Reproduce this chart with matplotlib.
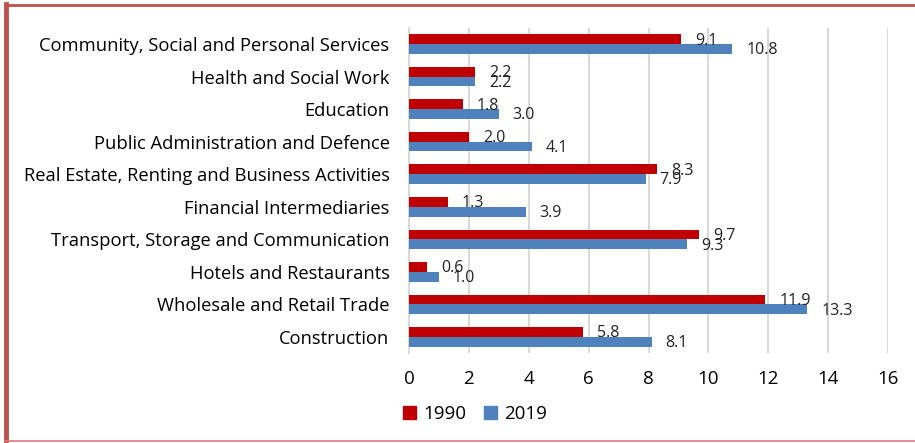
import matplotlib.pyplot as plt
import numpy as np
from matplotlib.lines import Line2D
from matplotlib.patches import Patch

plt.rcParams['font.family'] = ['Open Sans', 'DejaVu Sans']

sectors = [
    "Community, Social and Personal Services",
    "Health and Social Work",
    "Education",
    "Public Administration and Defence",
    "Real Estate, Renting and Business Activities",
    "Financial Intermediaries",
    "Transport, Storage and Communication",
    "Hotels and Restaurants",
    "Wholesale and Retail Trade",
    "Construction",
]
share_1990 = [9.1, 2.2, 1.8, 2.0, 8.3, 1.3, 9.7, 0.6, 11.9, 5.8]
share_2019 = [10.8, 2.2, 3.0, 4.1, 7.9, 3.9, 9.3, 1.0, 13.3, 8.1]

red = "#C00000"
blue = "#4F81BD"
frame = "#C0504D"

fig = plt.figure(figsize=(9.15, 4.43), dpi=100)
ax = fig.add_axes([0.447, 0.203, 0.5235, 0.734])

# first sector on top
y = np.arange(len(sectors))[::-1]
h = 0.3
ax.barh(y + h / 2, share_1990, height=h, color=red, zorder=3)
ax.barh(y - h / 2, share_2019, height=h, color=blue, zorder=3)

for yi, v in zip(y, share_1990):
    ax.annotate(f"{v:.1f}", (v, yi + h / 2), xytext=(10, -1), textcoords="offset points",
                ha="left", va="center", fontsize=11.5, color="#222222", zorder=4)
for yi, v in zip(y, share_2019):
    ax.annotate(f"{v:.1f}", (v, yi - h / 2), xytext=(10, -1), textcoords="offset points",
                ha="left", va="center", fontsize=11.5, color="#222222", zorder=4)

ax.set_xlim(0, 16)
ax.set_ylim(-0.5, len(sectors) - 0.5)
ax.set_xticks(range(0, 17, 2))
ax.set_yticks(y)
ax.set_yticklabels(sectors, fontsize=13.2)
ax.tick_params(axis="x", labelsize=13.5, length=0, pad=12)
ax.tick_params(axis="y", length=0, pad=14)
ax.grid(axis="x", color="#D9D9D9", linewidth=1.5, zorder=0)
for s in ["top", "right", "bottom"]:
    ax.spines[s].set_visible(False)
ax.spines["left"].set_color("#D9D9D9")
ax.spines["left"].set_linewidth(1.5)

handles = [Patch(color=red, label="1990"), Patch(color=blue, label="2019")]
fig.legend(handles=handles, loc="center left", bbox_to_anchor=(0.422, 0.066), ncol=2,
           frameon=False, fontsize=13.5, handlelength=0.7, handleheight=0.7,
           handletextpad=0.4, columnspacing=0.9)

# outline around the chart area
fig.add_artist(Line2D([0.0071, 0.0071], [0.005, 0.99], color=frame, linewidth=3.5))
fig.add_artist(Line2D([0.005, 1.0], [0.988, 0.988], color=frame, linewidth=2))
fig.add_artist(Line2D([0.005, 1.0], [0.004, 0.004], color="#E07A78", linewidth=1.2))

fig.savefig("out.png", dpi=100)
